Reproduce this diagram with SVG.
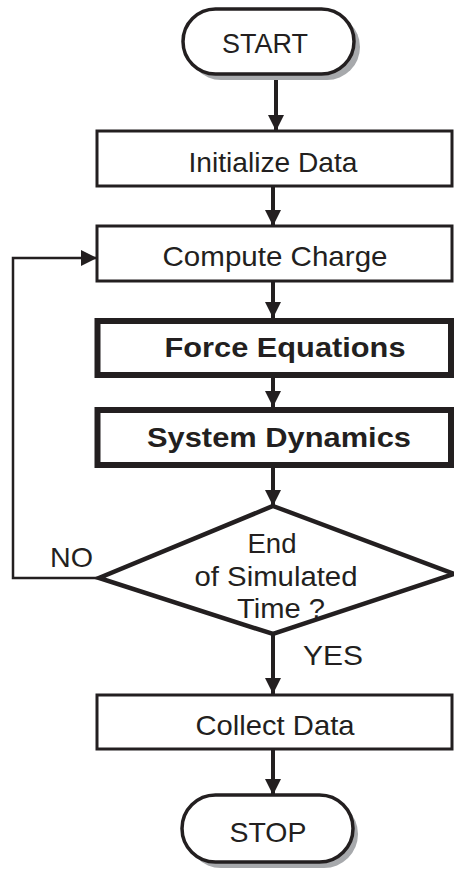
<svg xmlns="http://www.w3.org/2000/svg" width="454" height="871" viewBox="0 0 454 871">
<defs>
<style>
.t{font-family:"Liberation Sans",Arial,sans-serif;font-size:27.5px;fill:#231f20}
.b{font-weight:bold}
.box{fill:#fff;stroke:#231f20;stroke-width:3}
.thick{fill:#fff;stroke:#231f20;stroke-width:6}
.pill{fill:#fff;stroke:#231f20;stroke-width:3.5}
.shadow{fill:#a7a9ac;stroke:none}
.c{fill:none;stroke:#231f20;stroke-width:4}
.fb{fill:none;stroke:#231f20;stroke-width:2.5}
</style>
<marker id="ah" markerWidth="18" markerHeight="18" viewBox="0 0 18 16" refX="16" refY="8" orient="auto" markerUnits="userSpaceOnUse">
<path d="M0,0 L16,8 L0,16 Z" fill="#231f20"/>
</marker>
</defs>
<g id="connectors">
<line class="c" x1="276" y1="76" x2="276" y2="131" marker-end="url(#ah)"/>
<line class="c" x1="273" y1="187" x2="273" y2="226" marker-end="url(#ah)"/>
<line class="c" x1="273" y1="282" x2="273" y2="318" marker-end="url(#ah)"/>
<line class="c" x1="273" y1="378" x2="273" y2="407" marker-end="url(#ah)"/>
<line class="c" x1="273" y1="468" x2="273" y2="506" marker-end="url(#ah)"/>
<line class="c" x1="273" y1="634" x2="273" y2="694" marker-end="url(#ah)"/>
<line class="c" x1="273" y1="750" x2="273" y2="795" marker-end="url(#ah)"/>
<polyline class="fb" points="99,578 13,578 13,258 97,258" marker-end="url(#ah)"/>
</g>
<g id="start">
<rect class="shadow" x="188" y="14" width="172" height="66" rx="33"/>
<rect class="pill" x="183" y="9" width="171" height="65" rx="32.5"/>
<text class="t" x="265" y="53" text-anchor="middle" textLength="86" lengthAdjust="spacingAndGlyphs">START</text>
</g>
<g id="initialize">
<rect class="box" x="97" y="131" width="355" height="55"/>
<text class="t" x="273" y="172" text-anchor="middle" textLength="169" lengthAdjust="spacingAndGlyphs">Initialize Data</text>
</g>
<g id="compute">
<rect class="box" x="97" y="226" width="355" height="55"/>
<text class="t" x="275" y="266" text-anchor="middle" textLength="225" lengthAdjust="spacingAndGlyphs">Compute Charge</text>
</g>
<g id="force">
<rect class="thick" x="97.5" y="321" width="353.5" height="54"/>
<text class="t b" x="285" y="357" text-anchor="middle" textLength="241" lengthAdjust="spacingAndGlyphs">Force Equations</text>
</g>
<g id="system">
<rect class="thick" x="97.5" y="410" width="353.5" height="55"/>
<text class="t b" x="279" y="447" text-anchor="middle" textLength="264" lengthAdjust="spacingAndGlyphs">System Dynamics</text>
</g>
<g id="decision">
<polygon points="273,506 454,574 273,634 99,578" fill="#fff" stroke="#231f20" stroke-width="4.5" stroke-linejoin="miter"/>
<text class="t" x="272" y="553" text-anchor="middle" textLength="49" lengthAdjust="spacingAndGlyphs">End</text>
<text class="t" x="276" y="586" text-anchor="middle" textLength="163" lengthAdjust="spacingAndGlyphs">of Simulated</text>
<text class="t" x="281" y="618" text-anchor="middle" textLength="88" lengthAdjust="spacingAndGlyphs">Time ?</text>
</g>
<g id="labels">
<text class="t" x="50" y="567" textLength="43" lengthAdjust="spacingAndGlyphs">NO</text>
<text class="t" x="303" y="665" textLength="60" lengthAdjust="spacingAndGlyphs">YES</text>
</g>
<g id="collect">
<rect class="box" x="97" y="695" width="355" height="54"/>
<text class="t" x="275" y="735" text-anchor="middle" textLength="159" lengthAdjust="spacingAndGlyphs">Collect Data</text>
</g>
<g id="stop">
<rect class="shadow" x="187" y="800" width="171" height="68" rx="34"/>
<rect class="pill" x="182" y="795" width="171" height="67" rx="33.5"/>
<text class="t" x="268" y="842" text-anchor="middle" textLength="77" lengthAdjust="spacingAndGlyphs">STOP</text>
</g>
</svg>
